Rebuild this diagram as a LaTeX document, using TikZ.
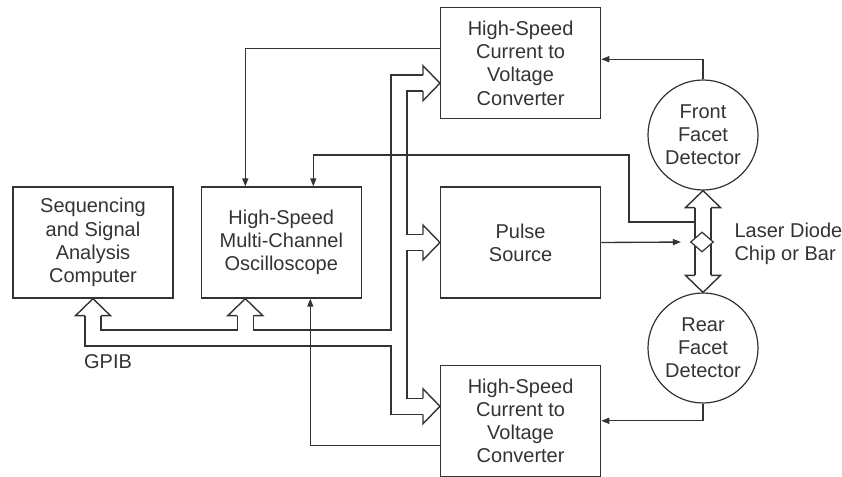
\documentclass[tikz,border=0pt]{standalone}
\usepackage{fontspec}
\setmainfont{Liberation Sans}
\usetikzlibrary{arrows.meta, positioning, shapes.geometric}

\newcommand{\lbl}{\fontsize{20}{23.2}\selectfont}

\begin{document}
\begin{tikzpicture}[x=1pt, y=-1pt, node distance=27pt, box/.style={draw=black!80, line width=1.3pt, align=center, minimum width=160pt, minimum height=111pt, inner sep=0pt, font=\lbl, text=black!80}, det/.style={draw=black!80, line width=1.2pt, circle, align=center, minimum size=110pt, inner sep=0pt, font=\lbl, text=black!80}, sig/.style={line width=1.35pt, draw=black!80, -{Triangle[length=8pt, width=6pt]}}, pipeedge/.style={line width=17.4pt, draw=black!80, line join=miter}, pipefill/.style={line width=14.6pt, draw=white, line join=miter}, pipehead/.pic={\fill[white] (0,0) -- (-17,17.5) -- (-17,-17.5) -- cycle; \draw[line width=1.4pt, draw=black!80, line join=miter] (-17,8) -- (-17,17.5) -- (0,0) -- (-17,-17.5) -- (-17,-8);}]
\useasboundingbox (0,0) rectangle (842,476);

\node[box] (comp) at (93,242.5) {Sequencing\\and Signal\\Analysis\\Computer};
\node[box, right=27pt of comp] (osc) {High-Speed\\Multi-Channel\\Oscilloscope};
\node[box, right=78pt of osc] (pulse) {Pulse\\Source};
\node[box, above=67pt of pulse] (conv1) {High-Speed\\Current to\\Voltage\\Converter};
\node[box, below=66pt of pulse] (conv2) {High-Speed\\Current to\\Voltage\\Converter};
\node[det] (front) at (703,135) {Front\\Facet\\Detector};
\node[det] (rear) at (703,348) {Rear\\Facet\\Detector};
\node[font=\lbl, text=black!80] (gpib) at (108,362) {GPIB};
\node[font=\lbl, text=black!80, align=left, anchor=west] (chip) at (731,244) {Laser Diode\\Chip or Bar};

\coordinate (bus) at (399,338);
\coordinate (tipA) at ([yshift=-20pt]conv1.west);
\coordinate (tipC) at ([yshift=14.5pt]conv2.west);
\coordinate (tipO) at ([xshift=-36pt]osc.south);
\coordinate (tap) at (694,222);

\foreach \pass in {pipeedge, pipefill}{
  \draw[\pass, shorten <=17pt, shorten >=17pt] (tipA) -| (bus) |- (tipC);
  \draw[\pass, shorten >=17pt] (bus) -| (comp.south);
  \draw[\pass, shorten >=17pt] (bus -| tipO) -- (tipO);
  \draw[\pass, shorten >=17pt] (bus |- pulse.west) -- (pulse.west);
  \draw[\pass, shorten <=17pt, shorten >=17pt] (front.south) -- (rear.north);
}
\pic at (tipA) {pipehead};
\pic at (pulse.west) {pipehead};
\pic at (tipC) {pipehead};
\pic[rotate=90] at (comp.south) {pipehead};
\pic[rotate=90] at (tipO) {pipehead};
\pic[rotate=90] at (front.south) {pipehead};
\pic[rotate=-90] at (rear.north) {pipehead};

\node[diamond, draw=black!80, fill=white, line width=1.2pt, minimum width=23pt, minimum height=20pt, inner sep=0pt] (laser) at (702,242) {};

\draw[sig] ([yshift=15pt]conv1.west) -| (tipO |- osc.north);
\draw[sig] (front.north) |- ([yshift=4pt]conv1.east);
\draw[sig] (rear.south) |- (conv2.east);
\draw[sig, shorten >=9pt] (pulse.east) -- (laser.west);
\draw[sig] (tap) -| (629,155) -| ([xshift=32pt]osc.north);
\draw[sig] ([yshift=-24.5pt]conv2.west) -| ([xshift=29pt]osc.south);

\end{tikzpicture}
\end{document}
